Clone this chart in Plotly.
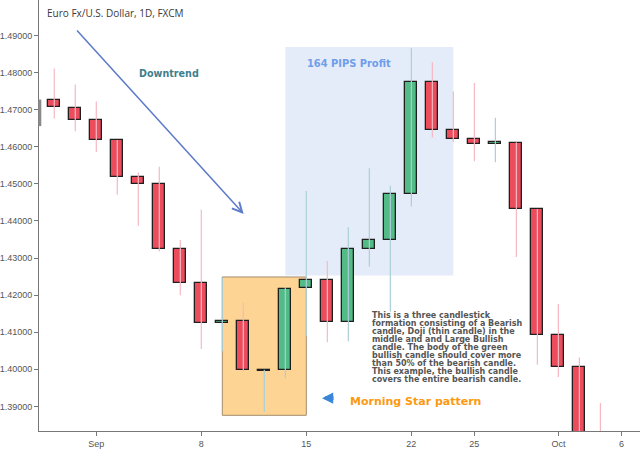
import numpy as np
import plotly.graph_objects as go

# ---------------- data ----------------
dates = ["2008-08-28", "2008-08-29", "2008-09-01", "2008-09-02", "2008-09-03",
         "2008-09-04", "2008-09-05", "2008-09-08", "2008-09-09", "2008-09-10",
         "2008-09-11", "2008-09-12", "2008-09-15", "2008-09-16", "2008-09-17",
         "2008-09-18", "2008-09-19", "2008-09-22", "2008-09-23", "2008-09-24",
         "2008-09-25", "2008-09-26", "2008-09-29", "2008-09-30", "2008-10-01",
         "2008-10-02", "2008-10-03"]
opens = [1.4726, 1.4705, 1.4671, 1.4617, 1.4518, 1.4499, 1.4324, 1.4234, 1.4125, 1.4131,
         1.3996, 1.3997, 1.4218, 1.4240, 1.4128, 1.4324, 1.4348, 1.4473, 1.4775, 1.4645,
         1.4621, 1.4608, 1.4611, 1.4431, 1.4093, 1.4007, 1.3800]
highs = [1.4811, 1.4768, 1.4722, 1.4618, 1.4531, 1.4546, 1.4349, 1.4430, 1.4247, 1.4180,
         1.3999, 1.4222, 1.4481, 1.4292, 1.4383, 1.4542, 1.4495, 1.4866, 1.4828, 1.4749,
         1.4772, 1.4678, 1.4612, 1.4432, 1.4176, 1.4032, 1.3909]
lows = [1.4676, 1.4642, 1.4586, 1.4471, 1.4387, 1.4318, 1.4200, 1.4055, 1.4049, 1.3994,
        1.3885, 1.3976, 1.4089, 1.4073, 1.4076, 1.4277, 1.4155, 1.4439, 1.4625, 1.4613,
        1.4561, 1.4558, 1.4303, 1.4012, 1.3979, 1.3760, 1.3700]
closes = [1.4706, 1.4671, 1.4617, 1.4519, 1.4499, 1.4324, 1.4234, 1.4125, 1.4131, 1.3997,
          1.3998, 1.4217, 1.4240, 1.4128, 1.4324, 1.4348, 1.4473, 1.4775, 1.4645, 1.4621,
          1.4608, 1.4612, 1.4431, 1.4093, 1.4007, 1.3800, 1.3760]

tick_dates = ["2008-09-01", "2008-09-08", "2008-09-15", "2008-09-22", "2008-09-25",
              "2008-10-01", "2008-10-06"]
tick_labels = ["Sep", "8", "15", "22", "25", "Oct", "6"]
y_ticks = [1.39, 1.40, 1.41, 1.42, 1.43, 1.44, 1.45, 1.46, 1.47, 1.48, 1.49]

note_lines = ["This is a three candlestick",
              "formation consisting of a Bearish",
              "candle, Doji (thin candle) in the",
              "middle and and Large Bullish",
              "candle. The body of the green",
              "bullish candle should cover more",
              "than 50% of the bearish candle.",
              "This example, the bullish candle",
              "covers the entire bearish candle."]

# ---------------- helpers ----------------
W, H = 640, 449
ML, MR, MT, MB = 38, 0, 0, 16
PW, PH = W - ML - MR, H - MT - MB


def px(x):
    return (x - ML) / PW


def py(y):
    return (MT + PH - y) / PH


# trading-day positions
xs = [int(np.busday_count(dates[0], d)) for d in dates]
tickvals = [int(np.busday_count(dates[0], d)) for d in tick_dates]

RED = "#eb4d5c"
GREEN = "#52bb86"
RED_WICK = "#f6b8c2"
GREEN_WICK = "#aacfd8"

up = [c >= o for o, c in zip(opens, closes)]

fig = go.Figure()

# wicks
for flag, col in [(False, RED_WICK), (True, GREEN_WICK)]:
    wx, wy = [], []
    for x, h, l, u in zip(xs, highs, lows, up):
        if u == flag:
            wx += [x, x, None]
            wy += [l, h, None]
    fig.add_trace(go.Scatter(x=wx, y=wy, mode="lines", line=dict(color=col, width=1.2),
                             hoverinfo="skip", showlegend=False))

# bodies
fig.add_trace(go.Bar(
    x=xs,
    y=[abs(c - o) for o, c in zip(opens, closes)],
    base=[min(o, c) for o, c in zip(opens, closes)],
    width=0.58,
    marker=dict(color=[GREEN if u else RED for u in up],
                line=dict(color="#1f1f1f", width=1.3)),
    showlegend=False,
))

shapes = [
    # profit zone
    dict(type="rect", xref="x", yref="y", x0=11, x1=19, y0=1.4253, y1=1.4869,
         fillcolor="#e5ecf9", line=dict(width=0), layer="below"),
    # morning star zone
    dict(type="rect", xref="x", yref="y", x0=8, x1=12, y0=1.3876, y1=1.4249,
         fillcolor="#fed494", line=dict(color="#a38d6c", width=1), layer="below"),
    # price marker on axis
    dict(type="rect", xref="paper", yref="paper", x0=px(37.3), x1=px(40.3),
         y0=py(126.7), y1=py(100.0), fillcolor="#8a8a8a", line=dict(width=0)),
]

annotations = [
    dict(text="Euro Fx/U.S. Dollar, 1D, FXCM", x=px(44), y=py(13), xref="paper", yref="paper",
         xanchor="left", yanchor="middle", showarrow=False,
         font=dict(family="Open Sans", size=10, color="#3a3a3a")),
    dict(text="<b>Downtrend</b>", x=px(168.3), y=py(73.7), xref="paper", yref="paper",
         xanchor="center", yanchor="middle", showarrow=False,
         font=dict(family="DejaVu Sans", size=9.6, color="#3f7f8e")),
    dict(text="<b>164 PIPS Profit</b>", x=px(348.8), y=py(63.3), xref="paper", yref="paper",
         xanchor="center", yanchor="middle", showarrow=False,
         font=dict(family="DejaVu Sans", size=9.9, color="#6f9eea")),
    dict(text="<b>Morning Star pattern</b>", x=px(347.5), y=py(403.5), xref="paper", yref="paper",
         xanchor="left", yanchor="middle", showarrow=False,
         font=dict(family="DejaVu Sans", size=11, color="#fb9a10")),
    # downtrend arrow
    dict(text="", x=px(243), y=py(215), xref="paper", yref="paper",
         ax=75 - 243, ay=30 - 215, axref="pixel", ayref="pixel",
         showarrow=True, arrowhead=5, arrowsize=1.3, arrowwidth=1.5, arrowcolor="#5b7ac8"),
    # small blue arrow icon
    dict(text="", x=px(321.5), y=py(400), xref="paper", yref="paper",
         ax=13, ay=0, axref="pixel", ayref="pixel",
         showarrow=True, arrowhead=2, arrowsize=0.62, arrowwidth=3.6, arrowcolor="#3b86d8"),
]
for k, line in enumerate(note_lines):
    annotations.append(dict(text="<b>" + line + "</b>", x=px(370), y=py(316.7 + 8.08 * k),
                            xref="paper", yref="paper", xanchor="left", yanchor="middle",
                            showarrow=False,
                            font=dict(family="DejaVu Sans", size=8, color="#555555")))

fig.update_layout(
    width=W, height=H,
    margin=dict(l=ML, r=MR, t=MT, b=MB, pad=0),
    paper_bgcolor="white", plot_bgcolor="white",
    bargap=0, showlegend=False,
    shapes=shapes, annotations=annotations,
    xaxis=dict(range=[-0.727, 27.886], showgrid=False, zeroline=False,
               showline=True, linecolor="#777777", linewidth=1,
               ticks="outside", ticklen=4, tickcolor="#777777",
               tickmode="array", tickvals=tickvals, ticktext=tick_labels,
               tickfont=dict(family="Liberation Sans", size=9, color="#555555")),
    yaxis=dict(range=[1.38337, 1.49958], showgrid=False, zeroline=False,
               showline=True, linecolor="#777777", linewidth=1,
               ticks="outside", ticklen=4, tickcolor="#777777",
               tickmode="array", tickvals=y_ticks,
               ticktext=["%.5f" % v for v in y_ticks],
               tickfont=dict(family="Liberation Sans", size=9, color="#555555")),
)

fig.write_html("out.html")
